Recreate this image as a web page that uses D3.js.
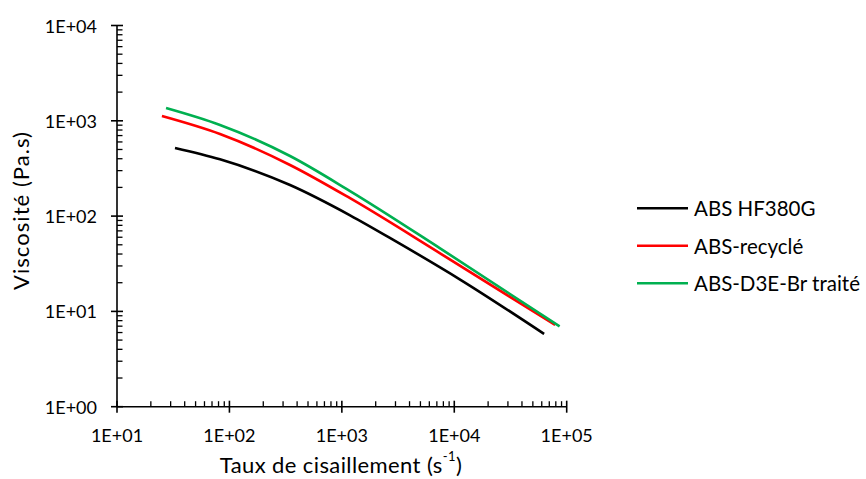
<!DOCTYPE html>
<html>
<head>
<meta charset="utf-8">
<script src="https://cdn.jsdelivr.net/npm/d3@7/dist/d3.min.js"></script>
<style>
  html, body { margin: 0; padding: 0; background: #fff; }
  text { font-family: Lato, "Open Sans", sans-serif; fill: #000; }
</style>
</head>
<body>
<svg id="chart" width="866" height="479"></svg>
<script>
// ---- data ----
const seriesNames = ["ABS HF380G", "ABS-recyclé", "ABS-D3E-Br traité"];
const seriesColors = ["#000000", "#FF0000", "#00B050"];

const shearBlack = [32.8, 82.4, 346, 1183, 3000, 11270, 63000];
const viscBlack  = [519, 394, 212, 102, 54.6, 21.6, 5.8];

const shearRed = [25.1, 82.4, 346, 1183, 7480, 78900];
const viscRed  = [1122, 727, 344, 154, 40.7, 7.2];

const shearGreen = [27.3, 82.4, 346, 1183, 7480, 86500];
const viscGreen  = [1360, 904, 427, 183, 45.9, 6.95];

const xTickValues = [1e1, 1e2, 1e3, 1e4, 1e5];
const xTickLabels = ["1E+01", "1E+02", "1E+03", "1E+04", "1E+05"];
const yTickValues = [1e0, 1e1, 1e2, 1e3, 1e4];
const yTickLabels = ["1E+00", "1E+01", "1E+02", "1E+03", "1E+04"];

const xTitle = "Taux de cisaillement (s";
const xTitleSup = "-1";
const yTitle = "Viscosité (Pa.s)";

// ---- layout ----
const svg = d3.select("#chart");
const x = d3.scaleLog().domain([1e1, 1e5]).range([117, 566.7]);
const y = d3.scaleLog().domain([1e0, 1e4]).range([406.7, 25.5]);

const series = [
  { name: seriesNames[0], color: seriesColors[0], xs: shearBlack, ys: viscBlack },
  { name: seriesNames[1], color: seriesColors[1], xs: shearRed, ys: viscRed },
  { name: seriesNames[2], color: seriesColors[2], xs: shearGreen, ys: viscGreen }
];

function minorTicks(lo, hi) {
  const out = [];
  for (let e = Math.log10(lo); e < Math.log10(hi); e++) {
    for (let k = 2; k <= 9; k++) out.push(k * Math.pow(10, e));
  }
  return out;
}

// curves
const line = d3.line()
  .x(d => x(d[0]))
  .y(d => y(d[1]))
  .curve(d3.curveMonotoneX);

series.forEach(s => {
  const pts = s.xs.map((v, i) => [v, s.ys[i]]);
  svg.append("path")
    .attr("d", line(pts))
    .attr("fill", "none")
    .attr("stroke", s.color)
    .attr("stroke-width", 2.6);
});

// x axis
const gx = svg.append("g");
gx.append("line").attr("x1", x.range()[0]).attr("x2", x.range()[1])
  .attr("y1", y(1)).attr("y2", y(1)).attr("stroke", "#000").attr("stroke-width", 1.6);
gx.selectAll(".minor").data(minorTicks(1e1, 1e5)).join("line")
  .attr("x1", d => x(d)).attr("x2", d => x(d))
  .attr("y1", y(1)).attr("y2", y(1) - 5.5)
  .attr("stroke", "#000").attr("stroke-width", 1.3);
gx.selectAll(".major").data(xTickValues).join("line")
  .attr("x1", d => x(d)).attr("x2", d => x(d))
  .attr("y1", y(1) - 6).attr("y2", y(1) + 6)
  .attr("stroke", "#000").attr("stroke-width", 1.6);
gx.selectAll(".lbl").data(xTickValues).join("text")
  .attr("x", d => x(d)).attr("y", 435)
  .attr("text-anchor", "middle").attr("dominant-baseline", "central")
  .attr("font-size", 18)
  .text((d, i) => xTickLabels[i]);

// y axis
const gy = svg.append("g");
gy.append("line").attr("x1", x(10)).attr("x2", x(10))
  .attr("y1", y.range()[0]).attr("y2", y.range()[1]).attr("stroke", "#000").attr("stroke-width", 1.6);
gy.selectAll(".minor").data(minorTicks(1e0, 1e4)).join("line")
  .attr("x1", x(10)).attr("x2", x(10) + 5.5)
  .attr("y1", d => y(d)).attr("y2", d => y(d))
  .attr("stroke", "#000").attr("stroke-width", 1.3);
gy.selectAll(".major").data(yTickValues).join("line")
  .attr("x1", x(10) - 6).attr("x2", x(10) + 6)
  .attr("y1", d => y(d)).attr("y2", d => y(d))
  .attr("stroke", "#000").attr("stroke-width", 1.6);
gy.selectAll(".lbl").data(yTickValues).join("text")
  .attr("x", 97).attr("y", d => y(d))
  .attr("text-anchor", "end").attr("dominant-baseline", "central")
  .attr("font-size", 18)
  .text((d, i) => yTickLabels[i]);

// axis titles
const xt = svg.append("text")
  .attr("x", 341).attr("y", 464)
  .attr("text-anchor", "middle").attr("dominant-baseline", "central")
  .attr("font-size", 22).attr("letter-spacing", 0.4);
xt.append("tspan").text(xTitle);
xt.append("tspan").attr("font-size", 13).attr("dy", -8).text(xTitleSup);
xt.append("tspan").attr("dy", 8).text(")");

svg.append("text")
  .attr("transform", "translate(20,211) rotate(-90)")
  .attr("text-anchor", "middle").attr("dominant-baseline", "central")
  .attr("font-size", 22)
  .attr("textLength", 158)
  .text(yTitle);

// legend
const legY = [208.3, 245.7, 283.3];
const leg = svg.append("g");
series.forEach((s, i) => {
  leg.append("line").attr("x1", 637).attr("x2", 688)
    .attr("y1", legY[i]).attr("y2", legY[i])
    .attr("stroke", s.color).attr("stroke-width", 2.6);
  leg.append("text").attr("x", 694).attr("y", legY[i])
    .attr("dominant-baseline", "central").attr("font-size", 20.5)
    .text(s.name);
});
</script>
</body>
</html>
